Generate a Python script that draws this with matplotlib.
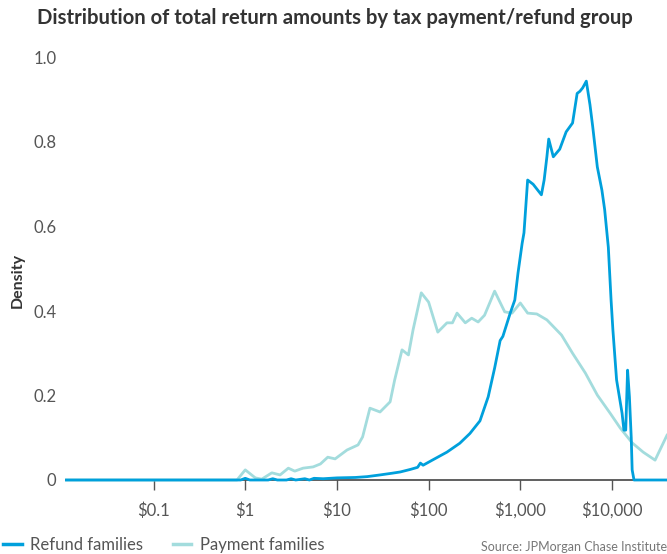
import numpy as np
import matplotlib
matplotlib.use("Agg")
import matplotlib.pyplot as plt
from matplotlib.lines import Line2D

# log10 of total return amount ($) and density
refund_log = [-1.95, -0.2, -0.05, 0.0, 0.05, 0.25, 0.3, 0.35, 0.45, 0.5, 0.55, 0.65, 0.7, 0.75,
              0.85, 1.0, 1.2, 1.33, 1.47, 1.6, 1.69, 1.8, 1.88, 1.91, 1.94, 2.04, 2.2, 2.34,
              2.45, 2.56, 2.65, 2.72, 2.78, 2.81, 2.89, 2.94, 2.975, 3.02, 3.04, 3.08, 3.14,
              3.23, 3.26, 3.29, 3.31, 3.36, 3.43, 3.50, 3.57, 3.62, 3.65, 3.68, 3.72, 3.76,
              3.79, 3.84, 3.89, 3.92, 3.96, 3.99, 4.01, 4.05, 4.11, 4.13, 4.15, 4.17, 4.19,
              4.21, 4.22, 4.24, 4.60]
refund_density = [0, 0, 0, 0.004, 0, 0, 0.003, 0, 0, 0.003, 0, 0.003, 0, 0.004,
                  0.003, 0.005, 0.006, 0.008, 0.012, 0.016, 0.019, 0.025, 0.03, 0.04, 0.035,
                  0.047, 0.066, 0.087, 0.11, 0.14, 0.197, 0.265, 0.33, 0.34, 0.395, 0.426,
                  0.49, 0.56, 0.585, 0.71, 0.70, 0.675, 0.71, 0.765, 0.807, 0.765, 0.783,
                  0.824, 0.845, 0.915, 0.92, 0.928, 0.944, 0.888, 0.836, 0.741, 0.686, 0.64,
                  0.551, 0.426, 0.355, 0.237, 0.158, 0.118, 0.118, 0.26, 0.197, 0.10, 0.024,
                  0.0, 0.0]

payment_log = [-1.95, -0.09, 0.0, 0.11, 0.18, 0.29, 0.38, 0.47, 0.54, 0.63, 0.74, 0.82, 0.90,
               0.98, 1.11, 1.23, 1.28, 1.36, 1.47, 1.58, 1.63, 1.71, 1.78, 1.83, 1.92, 2.0,
               2.10, 2.20, 2.26, 2.31, 2.40, 2.47, 2.54, 2.61, 2.72, 2.83, 2.91, 3.0, 3.08,
               3.18, 3.29, 3.45, 3.57, 3.71, 3.84, 3.98, 4.09, 4.22, 4.34, 4.47, 4.60]
payment_density = [0, 0, 0.024, 0.005, 0.002, 0.017, 0.012, 0.028, 0.021, 0.028, 0.031, 0.038,
                   0.054, 0.05, 0.071, 0.083, 0.102, 0.17, 0.161, 0.185, 0.237, 0.308, 0.296,
                   0.355, 0.443, 0.421, 0.35, 0.372, 0.372, 0.395, 0.372, 0.383, 0.374, 0.39,
                   0.447, 0.398, 0.395, 0.419, 0.395, 0.393, 0.379, 0.343, 0.30, 0.253, 0.201,
                   0.158, 0.123, 0.088, 0.066, 0.047, 0.106]

x_ticks = [0.1, 1, 10, 100, 1000, 10000]
x_labels = ["$0.1", "$1", "$10", "$100", "$1,000", "$10,000"]
y_ticks = [0, 0.2, 0.4, 0.6, 0.8, 1.0]
y_labels = ["0", "0.2", "0.4", "0.6", "0.8", "1.0"]

refund_color = "#00A0DC"
payment_color = "#A3DCDD"
text_color = "#333333"
tick_color = "#555555"

plt.rcParams["font.family"] = ["Lato", "DejaVu Sans"]

fig = plt.figure(figsize=(6.67, 5.54), dpi=100)
ax = fig.add_axes([66 / 667, 74 / 554, 601 / 667, 422.5 / 554])

ax.plot(10 ** np.array(refund_log), refund_density, color=refund_color, lw=2.0,
        solid_joinstyle="round", clip_on=False, zorder=3)
ax.plot(10 ** np.array(payment_log), payment_density, color=payment_color, lw=2.0,
        solid_joinstyle="round", clip_on=False, zorder=2)

ax.set_xscale("log")
ax.set_xlim(10 ** -1.955, 10 ** 4.6)
ax.set_ylim(0, 1.0)

ax.set_xticks(x_ticks)
ax.set_xticklabels(x_labels)
ax.minorticks_off()
ax.set_yticks(y_ticks)
ax.set_yticklabels(y_labels)

ax.tick_params(axis="x", length=7, width=1, color=tick_color, labelcolor=tick_color,
               labelsize=12, pad=9)
ax.tick_params(axis="y", length=0, labelcolor=tick_color, labelsize=12, pad=7)

for side in ["top", "right", "left"]:
    ax.spines[side].set_visible(False)
ax.spines["bottom"].set_color("#444444")
ax.spines["bottom"].set_linewidth(1.2)

fig.text(335 / 667, 1 - 18 / 554, "Distribution of total return amounts by tax payment/refund group",
         ha="center", va="center", fontsize=14.6, fontweight="bold", color=text_color)
fig.text(18 / 667, 1 - 280 / 554, "Density", rotation=90, ha="center", va="center",
         fontsize=11.5, fontweight="bold", color=text_color)

handles = [Line2D([], [], color=refund_color, lw=2.5),
           Line2D([], [], color=payment_color, lw=2.5)]
fig.legend(handles, ["Refund families", "Payment families"], loc="center left",
           bbox_to_anchor=(0.0, 1 - 545 / 554), ncol=2, frameon=False, fontsize=12,
           handlelength=1.1, handletextpad=0.5, columnspacing=1.8, labelcolor=tick_color,
           borderaxespad=0, borderpad=0.2)

fig.text(1.0, 1 - 547 / 554, "Source: JPMorgan Chase Institute", ha="right", va="center",
         fontsize=9, color="#777777")

fig.savefig("out.png", dpi=100)
